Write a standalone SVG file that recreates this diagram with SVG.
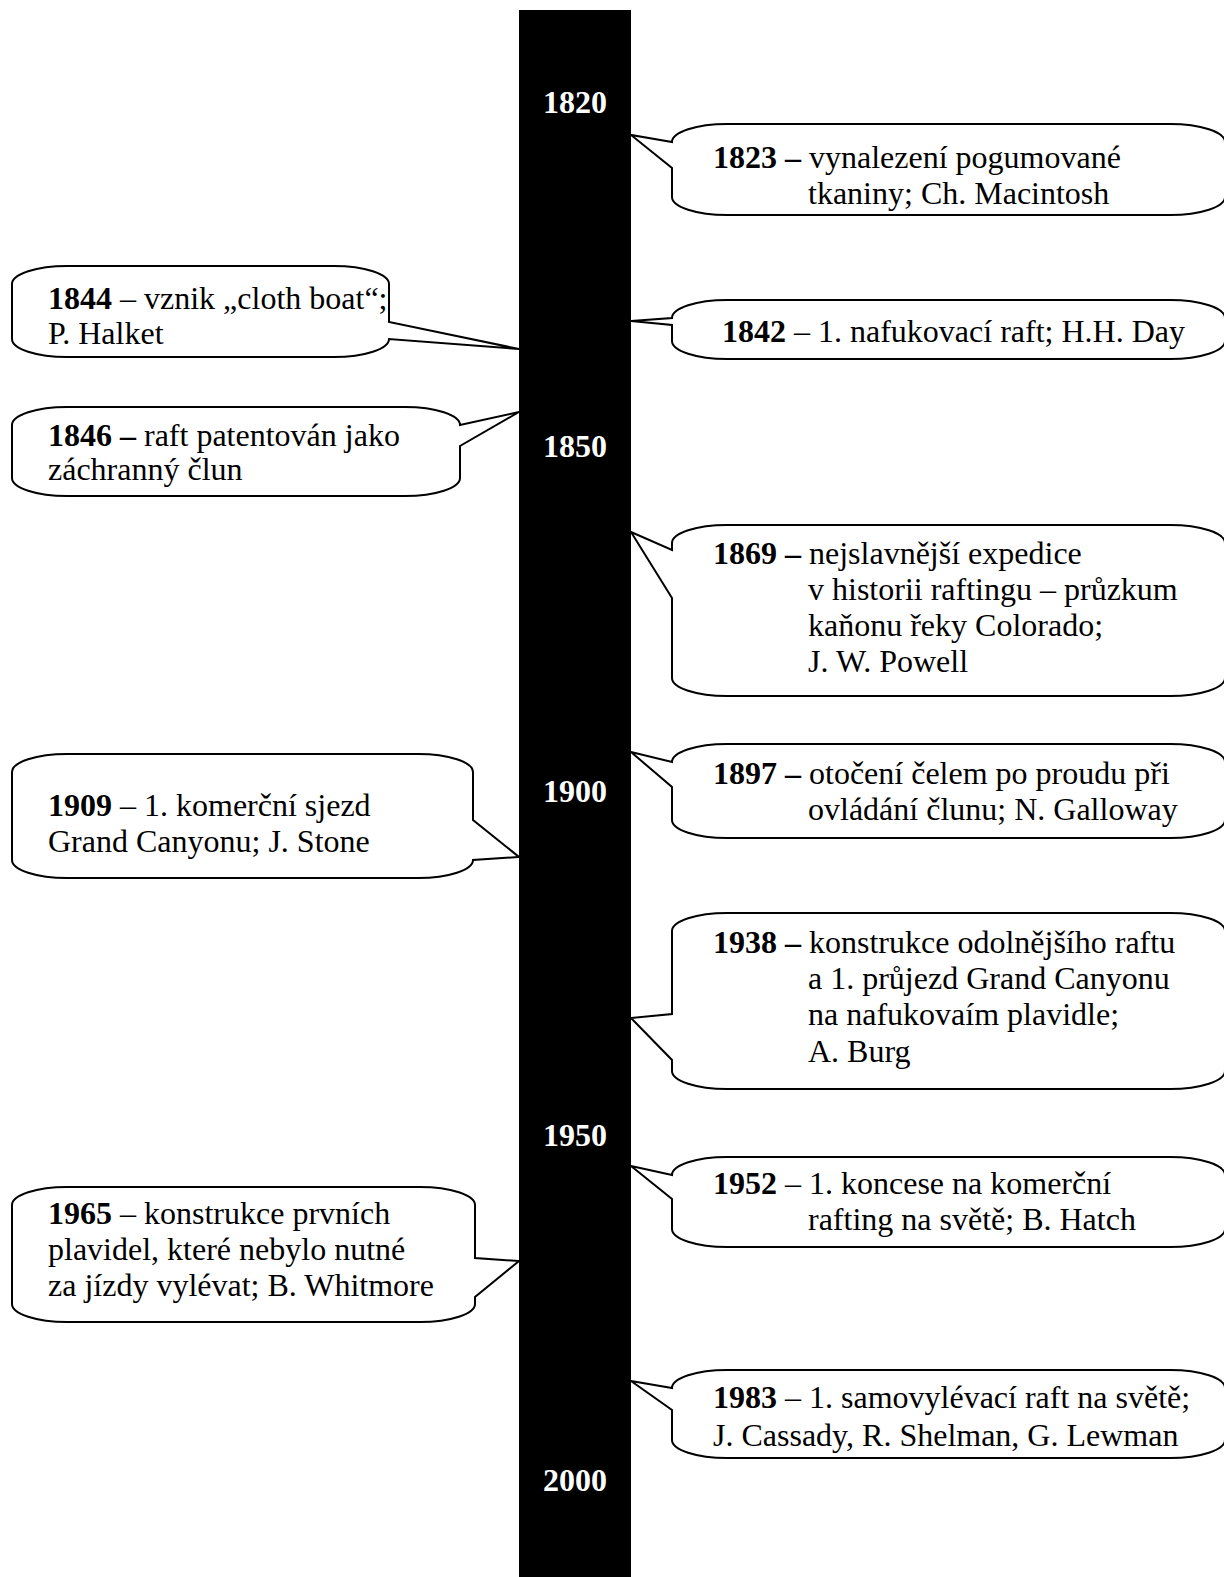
<svg xmlns="http://www.w3.org/2000/svg" width="1224" height="1577" viewBox="0 0 1224 1577">
<style>
.box{fill:#fff;stroke:#000;stroke-width:2;stroke-linejoin:miter}
.t{font-family:"Liberation Serif","Times New Roman",serif;font-size:32px;fill:#000}
.b{font-weight:bold}
.yr{font-family:"Liberation Serif","Times New Roman",serif;font-size:32px;font-weight:bold;fill:#fff;text-anchor:middle}
</style>
<rect width="1224" height="1577" fill="#fff"/>
<g id="timeline">
<rect x="519" y="10" width="112" height="1567" fill="#000"/>
<text class="yr" x="575" y="113">1820</text>
<text class="yr" x="575" y="457">1850</text>
<text class="yr" x="575" y="802">1900</text>
<text class="yr" x="575" y="1146">1950</text>
<text class="yr" x="575" y="1491">2000</text>
</g>
<g id="n1823">
<path class="box" d="M727,124 H1170 A55,18 0 0 1 1225,142 V197 A55,18 0 0 1 1170,215 H727 A55,18 0 0 1 672,197 V168 L631,135 L672,142 A55,18 0 0 1 727,124 Z"/>
<text class="t" x="713" y="168"><tspan class="b">1823 –</tspan> vynalezení pogumované</text>
<text class="t" x="808" y="204">tkaniny; Ch. Macintosh</text>
</g>
<g id="n1842">
<path class="box" d="M727,300 H1170 A55,18 0 0 1 1225,318 V341 A55,18 0 0 1 1170,359 H727 A55,18 0 0 1 672,341 V325 L631,321 L672,318 A55,18 0 0 1 727,300 Z"/>
<text class="t" x="722" y="342"><tspan class="b">1842</tspan> – 1. nafukovací raft; H.H. Day</text>
</g>
<g id="n1844">
<path class="box" d="M67,266 H334 A55,18 0 0 1 389,284 V322 L519,349 L389,339 A55,18 0 0 1 334,357 H67 A55,18 0 0 1 12,339 V284 A55,18 0 0 1 67,266 Z"/>
<text class="t" x="48" y="309"><tspan class="b">1844</tspan> – vznik „cloth boat“;</text>
<text class="t" x="48" y="344">P. Halket</text>
</g>
<g id="n1846">
<path class="box" d="M67,407 H405 A55,18 0 0 1 460,425 L519,412 L460,446 V478 A55,18 0 0 1 405,496 H67 A55,18 0 0 1 12,478 V425 A55,18 0 0 1 67,407 Z"/>
<text class="t" x="48" y="446"><tspan class="b">1846 –</tspan> raft patentován jako</text>
<text class="t" x="48" y="480">záchranný člun</text>
</g>
<g id="n1869">
<path class="box" d="M727,525 H1170 A55,18 0 0 1 1225,543 V678 A55,18 0 0 1 1170,696 H727 A55,18 0 0 1 672,678 V598 L631,532 L672,550 V543 A55,18 0 0 1 727,525 Z"/>
<text class="t" x="713" y="564"><tspan class="b">1869 –</tspan> nejslavnější expedice</text>
<text class="t" x="808" y="600">v historii raftingu – průzkum</text>
<text class="t" x="808" y="636">kaňonu řeky Colorado;</text>
<text class="t" x="808" y="672">J. W. Powell</text>
</g>
<g id="n1897">
<path class="box" d="M727,744 H1170 A55,18 0 0 1 1225,762 V820 A55,18 0 0 1 1170,838 H727 A55,18 0 0 1 672,820 V787 L631,752 L672,762 A55,18 0 0 1 727,744 Z"/>
<text class="t" x="713" y="784"><tspan class="b">1897 –</tspan> otočení čelem po proudu při</text>
<text class="t" x="808" y="820">ovládání člunu; N. Galloway</text>
</g>
<g id="n1909">
<path class="box" d="M67,754 H418 A55,18 0 0 1 473,772 V820 L519,857 L473,860 A55,18 0 0 1 418,878 H67 A55,18 0 0 1 12,860 V772 A55,18 0 0 1 67,754 Z"/>
<text class="t" x="48" y="816"><tspan class="b">1909</tspan> – 1. komerční sjezd</text>
<text class="t" x="48" y="852">Grand Canyonu; J. Stone</text>
</g>
<g id="n1938">
<path class="box" d="M727,913 H1170 A55,18 0 0 1 1225,931 V1071 A55,18 0 0 1 1170,1089 H727 A55,18 0 0 1 672,1071 V1060 L631,1018 L672,1014 V931 A55,18 0 0 1 727,913 Z"/>
<text class="t" x="713" y="953"><tspan class="b">1938 –</tspan> konstrukce odolnějšího raftu</text>
<text class="t" x="808" y="989">a 1. průjezd Grand Canyonu</text>
<text class="t" x="808" y="1025">na nafukovaím plavidle;</text>
<text class="t" x="808" y="1062">A. Burg</text>
</g>
<g id="n1952">
<path class="box" d="M727,1157 H1170 A55,18 0 0 1 1225,1175 V1229 A55,18 0 0 1 1170,1247 H727 A55,18 0 0 1 672,1229 V1199 L631,1166 L672,1175 A55,18 0 0 1 727,1157 Z"/>
<text class="t" x="713" y="1194"><tspan class="b">1952</tspan> – 1. koncese na komerční</text>
<text class="t" x="808" y="1230">rafting na světě; B. Hatch</text>
</g>
<g id="n1965">
<path class="box" d="M67,1187 H420 A55,18 0 0 1 475,1205 V1258 L519,1261 L475,1297 V1304 A55,18 0 0 1 420,1322 H67 A55,18 0 0 1 12,1304 V1205 A55,18 0 0 1 67,1187 Z"/>
<text class="t" x="48" y="1224"><tspan class="b">1965</tspan> – konstrukce prvních</text>
<text class="t" x="48" y="1260">plavidel, které nebylo nutné</text>
<text class="t" x="48" y="1296">za jízdy vylévat; B. Whitmore</text>
</g>
<g id="n1983">
<path class="box" d="M727,1370 H1170 A55,18 0 0 1 1225,1388 V1440 A55,18 0 0 1 1170,1458 H727 A55,18 0 0 1 672,1440 V1410 L631,1381 L672,1388 A55,18 0 0 1 727,1370 Z"/>
<text class="t" x="713" y="1408"><tspan class="b">1983</tspan> – 1. samovylévací raft na světě;</text>
<text class="t" x="713" y="1446">J. Cassady, R. Shelman, G. Lewman</text>
</g>
</svg>
